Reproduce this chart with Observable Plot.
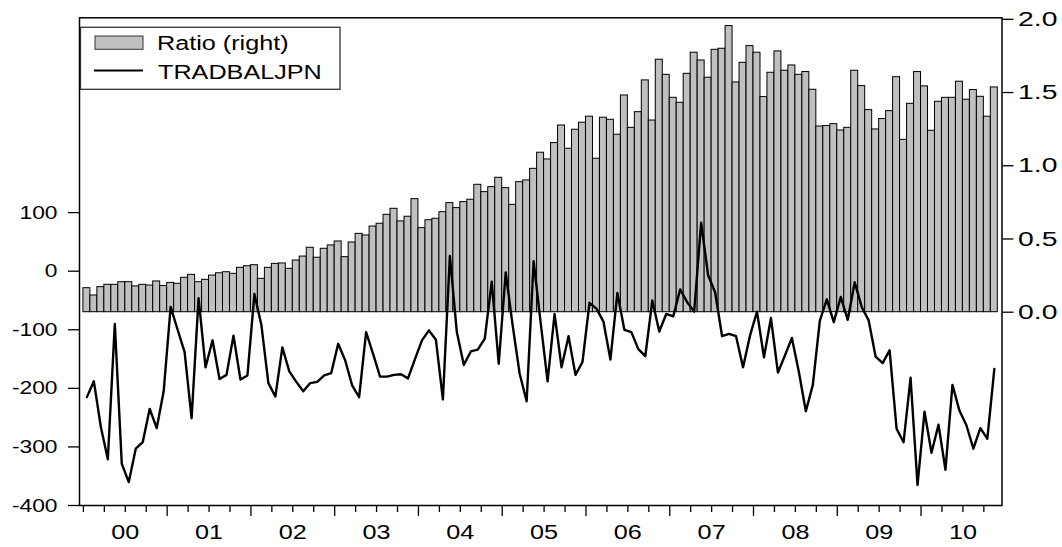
<!DOCTYPE html>
<html><head><meta charset="utf-8">
<script src="https://cdn.jsdelivr.net/npm/d3@7"></script>
<script src="https://cdn.jsdelivr.net/npm/@observablehq/plot@0.6"></script>
<style>html,body{margin:0;padding:0;background:#fff;}</style>
</head><body><div id="chart"></div>
<script>
// Monthly observations, Jan 2000 – Nov 2010
const startYear = 2000;
const yearLabels = ["00","01","02","03","04","05","06","07","08","09","10"];
const ratio = [
0.164,0.114,0.171,0.187,0.187,0.205,0.205,0.176,0.187,0.182,0.210,0.179,
0.200,0.194,0.235,0.255,0.205,0.221,0.250,0.266,0.273,0.262,0.303,0.314,
0.321,0.228,0.303,0.330,0.333,0.296,0.353,0.380,0.440,0.372,0.433,0.456,
0.483,0.376,0.476,0.535,0.524,0.585,0.604,0.665,0.706,0.620,0.652,0.772,
0.574,0.628,0.638,0.683,0.745,0.711,0.752,0.768,0.870,0.820,0.854,0.918,
0.847,0.733,0.888,0.900,0.979,1.089,1.043,1.155,1.275,1.116,1.246,1.294,
1.335,1.048,1.328,1.314,1.212,1.480,1.259,1.366,1.583,1.309,1.724,1.621,
1.464,1.430,1.628,1.772,1.719,1.601,1.792,1.799,1.954,1.569,1.703,1.817,
1.772,1.469,1.635,1.781,1.649,1.685,1.621,1.640,1.519,1.268,1.271,1.284,
1.241,1.259,1.649,1.544,1.380,1.248,1.319,1.373,1.605,1.177,1.423,1.640,
1.542,1.239,1.437,1.464,1.464,1.574,1.451,1.517,1.471,1.335,1.535
];
const tradbal = [
-215,-188,-266,-321,-90,-329,-360,-303,-292,-235,-268,-205,
-61,-100,-138,-251,-46,-164,-118,-184,-177,-110,-185,-178,
-39,-92,-191,-214,-130,-171,-189,-205,-191,-189,-178,-174,
-124,-152,-195,-215,-104,-141,-180,-180,-177,-176,-183,-150,
-118,-101,-117,-219,26,-104,-160,-137,-134,-115,-18,-158,
-2,-93,-175,-222,17,-87,-188,-73,-164,-111,-177,-155,
-54,-64,-86,-151,-37,-100,-104,-133,-145,-50,-103,-73,
-77,-31,-53,-69,83,-7,-36,-111,-107,-111,-164,-110,
-69,-147,-80,-173,-144,-114,-172,-239,-194,-85,-48,-87,
-44,-83,-19,-61,-84,-146,-157,-135,-269,-292,-182,-365,
-240,-310,-262,-339,-194,-238,-263,-303,-268,-286,-167
];
const leftTicks = [-400,-300,-200,-100,0,100];
const rightTicks = [0,0.5,1.0,1.5,2.0];
const legendLabels = ["Ratio (right)","TRADBALJPN"];

// right axis (ratio) mapped onto left-axis units
const R0 = -70, RK = 250;
const toLeft = r => R0 + RK * r;

const n = ratio.length;
const data = ratio.map((r, i) => ({i, r, t: tradbal[i]}));
const quarterTicks = d3.range(0, n, 3);
const majorTicks = quarterTicks.filter(q => q % 12 === 0 && q > 0);
const minorTicks = quarterTicks.filter(q => !(q % 12 === 0 && q > 0));
const yearCenters = yearLabels.map((_, k) => 12 * k + 6);

const font = "'Liberation Sans', Arial, Helvetica, sans-serif";

const svg = Plot.plot({
  width: 1062, height: 547,
  marginLeft: 79, marginRight: 60.5, marginTop: 17.3, marginBottom: 42,
  style: {fontFamily: font, fontSize: "20px", color: "black", background: "white", overflow: "visible"},
  x: {type: "linear", domain: [-0.559, 131.6], axis: null, label: null},
  y: {domain: [-400, 432.6], axis: null, label: null},
  marks: [
    Plot.rectY(data, {x1: "i", x2: d => d.i + 1, y1: R0, y2: d => toLeft(d.r),
      fill: "#c0c0c0", stroke: "black", strokeWidth: 1}),
    Plot.line(data, {x: d => d.i + 0.5, y: "t", stroke: "black", strokeWidth: 2.4}),
    Plot.frame({stroke: "black", strokeWidth: 1.5}),
    Plot.axisY(leftTicks, {anchor: "left", label: null, tickSize: 11, tickPadding: 11, fontSize: 19, strokeWidth: 1.3,
      tickFormat: d => String(d)}),
    Plot.axisY(rightTicks.map(toLeft), {anchor: "right", label: null, tickSize: 11, tickPadding: 5, fontSize: 21, strokeWidth: 1.3,
      tickFormat: v => ((v - R0) / RK).toFixed(1)}),
    Plot.axisX(minorTicks, {anchor: "bottom", label: null, tickSize: 7, strokeWidth: 1.3, tickFormat: () => ""}),
    Plot.axisX(majorTicks, {anchor: "bottom", label: null, tickSize: 11, strokeWidth: 1.3, tickFormat: () => ""}),
    Plot.axisX(yearCenters, {anchor: "bottom", label: null, tickSize: 0, tickPadding: 19, fontSize: 21,
      tickFormat: d => yearLabels[(d - 6) / 12]})
  ]
});

// legend
const g = d3.select(svg).append("g").attr("class", "legend")
  .attr("font-family", font).attr("font-size", 21).attr("fill", "black").attr("text-anchor", "start");
g.append("rect").attr("x", 80.5).attr("y", 27.3).attr("width", 259.5).attr("height", 62)
  .attr("fill", "white").attr("stroke", "#333").attr("stroke-width", 1.3);
g.append("rect").attr("x", 95).attr("y", 36).attr("width", 48).attr("height", 13.3)
  .attr("fill", "#c0c0c0").attr("stroke", "#333").attr("stroke-width", 1);
g.append("line").attr("x1", 94).attr("x2", 143).attr("y1", 70.5).attr("y2", 70.5)
  .attr("stroke", "black").attr("stroke-width", 2);
g.append("text").attr("x", 157).attr("y", 50.5).text(legendLabels[0]);
g.append("text").attr("x", 158).attr("y", 79.5).text(legendLabels[1]);

// horizontally widened lettering like the reference
svg.querySelectorAll("text").forEach(t => {
  const inLegend = !!t.closest(".legend");
  const anchorEl = t.closest("[text-anchor]");
  const anchor = anchorEl ? anchorEl.getAttribute("text-anchor") : "middle";
  const s = inLegend ? 1.2 : (anchor === "start" ? 1.35 : 1.2);
  let tr = t.getAttribute("transform") || "";
  const x = t.getAttribute("x");
  if (x != null && !isNaN(+x)) { tr += ` translate(${x},0)`; t.removeAttribute("x"); }
  t.setAttribute("transform", (tr + ` scale(${s},1)`).trim());
});

document.getElementById("chart").appendChild(svg);
</script>
</body></html>
